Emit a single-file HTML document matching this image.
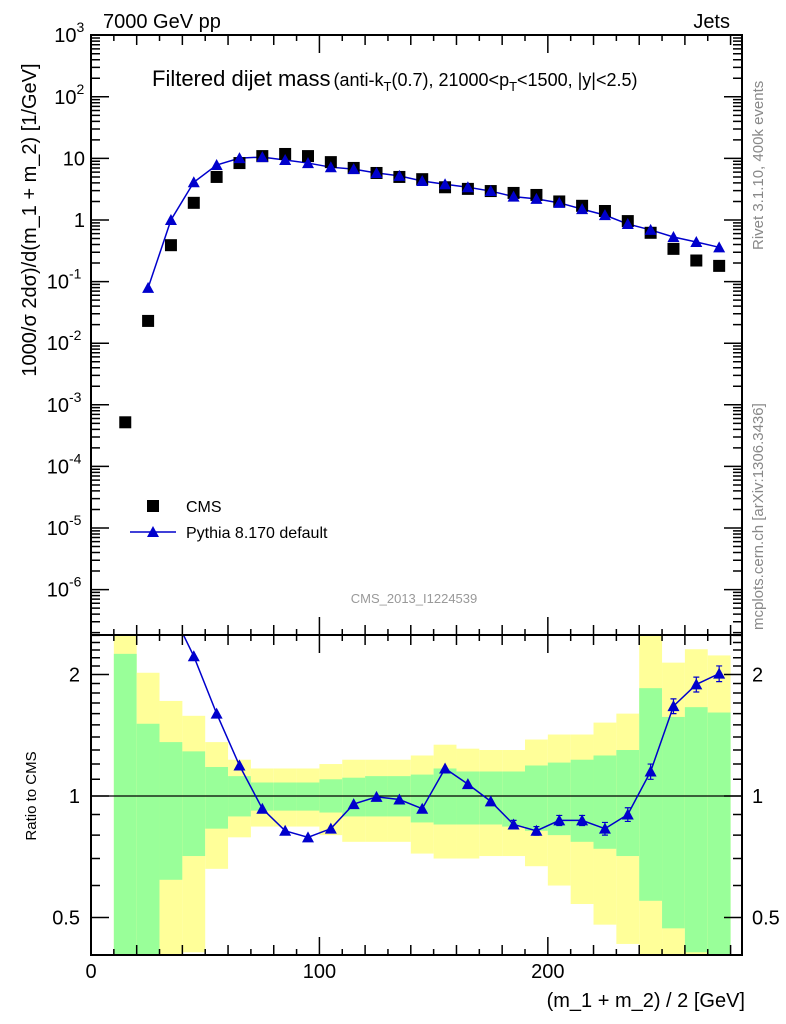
<!DOCTYPE html>
<html><head><meta charset="utf-8"><style>
body{margin:0;background:#fff}svg{display:block;font-family:"Liberation Sans",sans-serif}
</style></head><body>
<svg id="c" width="786" height="1024" viewBox="0 0 786 1024">
<g id="bands"></g>
<g id="marks"></g>
<g id="axes"></g>
<text x="103" y="28" font-size="20">7000 GeV pp</text>
<text x="730" y="28" font-size="20" text-anchor="end">Jets</text>
<text x="152" y="86" font-size="22">Filtered dijet mass<tspan font-size="18" dx="3">(anti-k<tspan font-size="13" dy="5">T</tspan><tspan dy="-5">(0.7), 21000&lt;p</tspan><tspan font-size="13" dy="5">T</tspan><tspan dy="-5">&lt;1500, |y|&lt;2.5)</tspan></tspan></text>
<text transform="translate(763,250) rotate(-90)" font-size="15" fill="#888">Rivet 3.1.10,  400k events</text>
<text transform="translate(763,630) rotate(-90)" font-size="15" fill="#888">mcplots.cern.ch [arXiv:1306.3436]</text>
<text x="414" y="603" font-size="13" fill="#999" text-anchor="middle">CMS_2013_I1224539</text>
<text transform="translate(36,220) rotate(-90)" font-size="20" text-anchor="middle">1000/σ 2dσ)/d(m_1 + m_2) [1/GeV]</text>
<text transform="translate(36,796) rotate(-90)" font-size="15" text-anchor="middle">Ratio to CMS</text>
<text x="745" y="1007" font-size="20" text-anchor="end">(m_1 + m_2) / 2 [GeV]</text>
<rect x="147" y="500" width="12" height="12" fill="#000"/>
<text x="186" y="512" font-size="16">CMS</text>
<line x1="130" y1="532" x2="176" y2="532" stroke="#00c" stroke-width="1.5"/>
<polygon points="153,526 147,537 159,537" fill="#00c"/>
<text x="186" y="538" font-size="16">Pythia 8.170 default</text>
</svg>
<script>
const centers=[15,25,35,45,55,65,75,85,95,105,115,125,135,145,155,165,175,185,195,205,215,225,235,245,255,265,275];
const cmsVals=[5.2e-4,0.023,0.39,1.9,5,8.4,10.9,11.8,10.9,8.7,7,5.8,5,4.6,3.4,3.2,2.95,2.75,2.55,2.0,1.7,1.4,0.96,0.62,0.34,0.22,0.18];
const mcVals=[null,0.079,1.0,4.1,7.8,10.1,10.5,9.4,8.4,7.2,6.7,5.8,5.2,4.3,3.8,3.4,2.95,2.4,2.2,1.9,1.5,1.2,0.86,0.69,0.53,0.44,0.36];
const ratioVals=[null,3.4,2.9,2.22,1.60,1.19,0.93,0.82,0.79,0.83,0.955,0.995,0.98,0.93,1.17,1.07,0.97,0.85,0.82,0.87,0.87,0.83,0.90,1.15,1.67,1.89,2.01];
const ratioErr=[0,0,0,0,0,0,0,0,0,0,0,0,0,0,0,0,0,0.02,0.02,0.025,0.025,0.03,0.035,0.05,0.07,0.08,0.09];
const yellowHi=[3,2.02,1.72,1.58,1.36,1.23,1.17,1.17,1.17,1.2,1.23,1.23,1.23,1.26,1.34,1.31,1.30,1.30,1.38,1.42,1.42,1.52,1.60,3,2.14,2.31,2.23];
const greenHi=[2.25,1.51,1.36,1.29,1.18,1.12,1.08,1.08,1.08,1.10,1.11,1.12,1.12,1.13,1.17,1.15,1.15,1.15,1.19,1.21,1.23,1.26,1.30,1.85,1.57,1.66,1.61];
const greenLo=[0.3,0.3,0.62,0.71,0.83,0.89,0.92,0.92,0.92,0.91,0.89,0.89,0.89,0.86,0.85,0.85,0.85,0.84,0.82,0.80,0.77,0.74,0.71,0.55,0.47,0.41,0.405];
const yellowLo=[0.2,0.2,0.2,0.41,0.66,0.79,0.84,0.84,0.84,0.80,0.77,0.77,0.77,0.72,0.70,0.70,0.71,0.71,0.67,0.60,0.54,0.48,0.43,0.3,0.3,0.3,0.3];
const xTickLabels=["0","100","200"];
const yTickExps=[3,2,1,0,-1,-2,-3,-4,-5,-6];
const NS="http://www.w3.org/2000/svg";
const L=91,R=742,T=35,MB=635,RB=955;
const X=v=>L+(v-0)*(R-L)/285;
const Y=v=>220-61.6*Math.log10(v);
const RY=r=>796-121.5*Math.log2(r);
const clampR=y=>Math.max(MB,Math.min(RB,y));
function mk(tag,attrs,parent){const e=document.createElementNS(NS,tag);for(const k in attrs)e.setAttribute(k,attrs[k]);(parent||document.getElementById('c')).appendChild(e);return e;}
const bands=document.getElementById('bands'),marks=document.getElementById('marks'),axes=document.getElementById('axes');
centers.forEach((c,i)=>{
  const x0=X(c-5),x1=X(c+5);
  const y1=clampR(RY(yellowHi[i])),y2=clampR(RY(yellowLo[i]));
  const r=mk('rect',{x:x0,y:y1,width:x1-x0,height:y2-y1,fill:'#ffff99'},bands);
  
  
  const g1=clampR(RY(greenHi[i])),g2=clampR(RY(greenLo[i]));
  const g=mk('rect',{x:x0,y:g1,width:x1-x0,height:g2-g1,fill:'#99ff99'},bands);
  
  
});
const l1=mk('line',{x1:L,x2:R,y1:RY(1),y2:RY(1),stroke:'#000','stroke-width':1.2},marks);


let pts=[];centers.forEach((c,i)=>{if(mcVals[i]!=null)pts.push(X(c)+','+Y(mcVals[i]));});
const pl=mk('polyline',{points:pts.join(' '),fill:'none',stroke:'#00c','stroke-width':1.5},marks);


function tri(x,y,p){const t=mk('polygon',{points:`${x},${y-6} ${x-6},${y+5} ${x+6},${y+5}`,fill:'#00c'},p);return t;}
centers.forEach((c,i)=>{
  const s=mk('rect',{x:X(c)-6,y:Y(cmsVals[i])-6,width:12,height:12,fill:'#000'},marks);
  
  
  if(mcVals[i]!=null){const t=tri(X(c),Y(mcVals[i]),marks);
    
    }
});
const cp=mk('clipPath',{id:'rc'});
mk('rect',{x:L,y:MB,width:R-L,height:RB-MB},cp);
const rg=mk('g',{'clip-path':'url(#rc)'},marks);


pts=[];centers.forEach((c,i)=>{if(ratioVals[i]!=null)pts.push(X(c)+','+RY(ratioVals[i]));});
mk('polyline',{points:pts.join(' '),fill:'none',stroke:'#00c','stroke-width':1.5},rg);
centers.forEach((c,i)=>{
  if(ratioVals[i]==null)return;
  const x=X(c),y=RY(ratioVals[i]);
  if(ratioErr[i]>0){const a=RY(ratioVals[i]+ratioErr[i]),b=RY(ratioVals[i]-ratioErr[i]);
    mk('path',{d:`M${x},${a}V${b}M${x-3},${a}H${x+3}M${x-3},${b}H${x+3}`,stroke:'#00c','stroke-width':1.2},rg);}
  const t=tri(x,y,rg);
  
  
});
[[T,MB],[MB,RB]].forEach(([a,b])=>mk('rect',{x:L,y:a,width:R-L,height:b-a,fill:'none',stroke:'#000','stroke-width':2},axes));
let d='';
for(let v=0;v<=285;v+=10){const x=X(v),len=v%100==0?18:(v%20==0?10:6);
  d+=`M${x},${MB}v${-len}M${x},${T}v${len}M${x},${RB}v${-len}M${x},${MB}v${len}`;}
for(let e=-7;e<=3;e++){for(let m=1;m<10;m++){const y=Y(m*Math.pow(10,e));if(y<T||y>MB)continue;const len=m==1?18:9;d+=`M${L},${y}h${len}M${R},${y}h${-len}`;}}
[0.4,0.5,0.6,0.7,0.8,0.9,1,1.1,1.2,1.3,1.4,1.5,1.6,1.7,1.8,1.9,2,2.1,2.2,2.3,2.4,2.5].forEach(r=>{const y=RY(r);if(y<MB||y>RB)return;const len=(r==0.5||r==1||r==2)?18:9;d+=`M${L},${y}h${len}M${R},${y}h${-len}`;});
mk('path',{d:d,stroke:'#000','stroke-width':1.5,fill:'none'},axes);
xTickLabels.forEach((t,i)=>{const e=mk('text',{x:X(i*100),y:978,'font-size':20,'text-anchor':'middle'},axes);e.textContent=t;
  
  });
yTickExps.forEach(ex=>{const y=Y(Math.pow(10,ex))+7;
  if(ex==0||ex==1){const e=mk('text',{x:85,y:y,'font-size':20,'text-anchor':'end'},axes);e.textContent=ex==0?"1":"10";
    
    }
  else{const s=String(ex);const sw=s.length*7.5;
    const e=mk('text',{x:84-sw,y:y,'font-size':20,'text-anchor':'end'},axes);e.textContent="10";
    
    
    const sp=mk('text',{x:84-sw,y:y-10,'font-size':14},axes);sp.textContent=s;}});
[[2,"2"],[1,"1"],[0.5,"0.5"]].forEach(([r,t])=>{
  const e=mk('text',{x:80,y:RY(r)+7,'font-size':20,'text-anchor':'end'},axes);e.textContent=t;
  
  
  const e2=mk('text',{x:752,y:RY(r)+7,'font-size':20},axes);e2.textContent=t;
  
  });
</script>
</body></html>
